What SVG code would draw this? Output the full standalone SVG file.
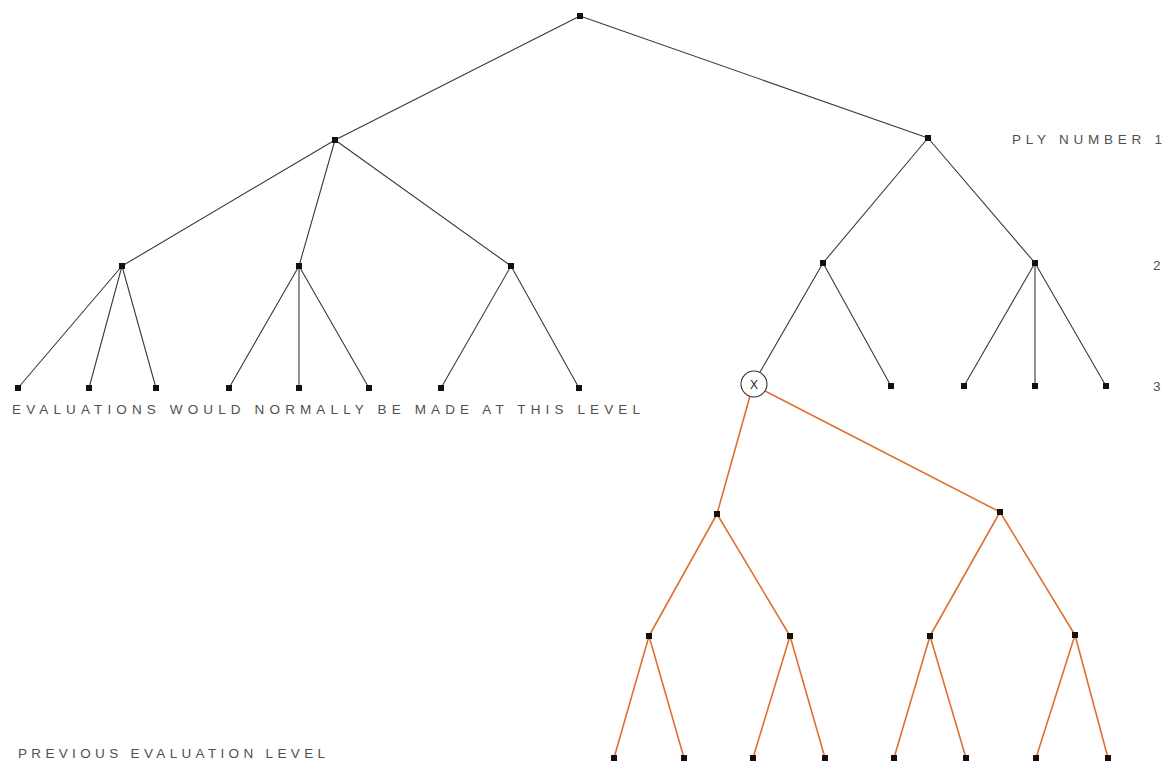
<svg xmlns="http://www.w3.org/2000/svg" width="1166" height="764" viewBox="0 0 1166 764">
<style>
.e{stroke:#3a3a3a;stroke-width:1.1;fill:none}
.o{stroke:#e07030;stroke-width:1.6;fill:none}
.t{font-family:"Liberation Sans",Arial,sans-serif;font-size:13.5px;fill:#505050}
</style>
<defs><rect id="n" x="-3" y="-3" width="6" height="6" fill="#111"/></defs>
<rect width="1166" height="764" fill="#fff"/>
<g id="connectors">
<path class="e" d="M580,16L335,140M580,16L928,138M335,140L122,266M335,140L299,266M335,140L511,266M928,138L823,263M928,138L1035,263M122,266L18,388M122,266L89,388M122,266L156,388M299,266L229,388M299,266L299,388M299,266L369,388M511,266L441,388M511,266L579,388M823,263L760,372M823,263L891,386M1035,263L964,386M1035,263L1035,386M1035,263L1106,386"/>
<path class="o" d="M750,396L717,514M765,391L1000,512M717,514L649,636M717,514L790,636M1000,512L930,636M1000,512L1075,635M649,636L614,758M649,636L684,758M790,636L753,758M790,636L825,758M930,636L894,758M930,636L966,758M1075,635L1036,758M1075,635L1108,758"/>
</g>
<g id="root"><use href="#n" x="580" y="16"/></g>
<g id="p1"><use href="#n" x="335" y="140"/><use href="#n" x="928" y="138"/></g>
<g id="p2"><use href="#n" x="122" y="266"/><use href="#n" x="299" y="266"/><use href="#n" x="511" y="266"/><use href="#n" x="823" y="263"/><use href="#n" x="1035" y="263"/></g>
<g id="p3"><use href="#n" x="18" y="388"/><use href="#n" x="89" y="388"/><use href="#n" x="156" y="388"/><use href="#n" x="229" y="388"/><use href="#n" x="299" y="388"/><use href="#n" x="369" y="388"/><use href="#n" x="441" y="388"/><use href="#n" x="579" y="388"/><use href="#n" x="891" y="386"/><use href="#n" x="964" y="386"/><use href="#n" x="1035" y="386"/><use href="#n" x="1106" y="386"/></g>
<g id="x"><circle cx="754" cy="384" r="13" fill="#fff" stroke="#333" stroke-width="1.1"/><text x="754" y="389" text-anchor="middle" class="t" style="fill:#222;font-size:12px">X</text></g>
<g id="p4"><use href="#n" x="717" y="514"/><use href="#n" x="1000" y="512"/></g>
<g id="p5"><use href="#n" x="649" y="636"/><use href="#n" x="790" y="636"/><use href="#n" x="930" y="636"/><use href="#n" x="1075" y="635"/></g>
<g id="p6"><use href="#n" x="614" y="758"/><use href="#n" x="684" y="758"/><use href="#n" x="753" y="758"/><use href="#n" x="825" y="758"/><use href="#n" x="894" y="758"/><use href="#n" x="966" y="758"/><use href="#n" x="1036" y="758"/><use href="#n" x="1108" y="758"/></g>
<g id="labels">
<text class="t" x="1012" y="144" textLength="150" lengthAdjust="spacing">PLY NUMBER 1</text>
<text class="t" x="1153" y="270">2</text>
<text class="t" x="1153" y="391">3</text>
<text class="t" x="12" y="414" textLength="628" lengthAdjust="spacing">EVALUATIONS WOULD NORMALLY BE MADE AT THIS LEVEL</text>
<text class="t" x="18" y="758" textLength="307" lengthAdjust="spacing">PREVIOUS EVALUATION LEVEL</text>
</g>
</svg>
